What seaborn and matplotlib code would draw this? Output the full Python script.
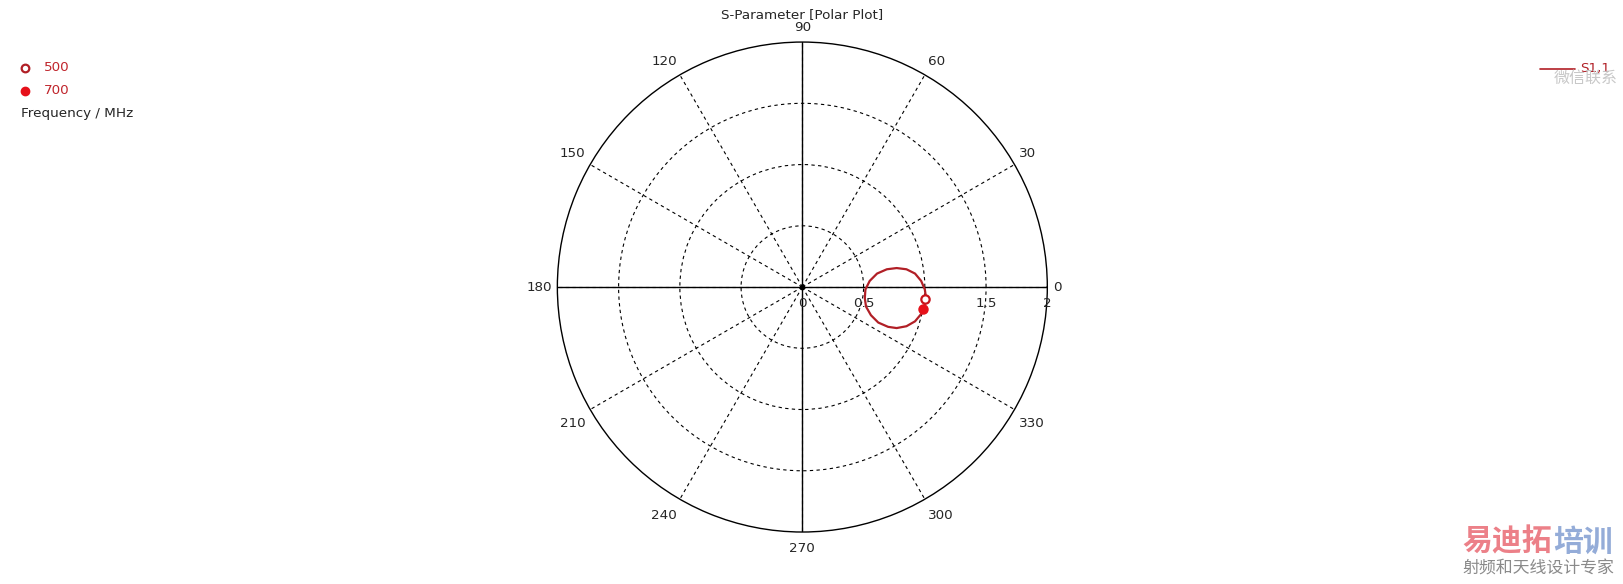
import numpy as np
import pandas as pd
import seaborn as sns
import matplotlib.pyplot as plt
from matplotlib.lines import Line2D

s11_re = [1.01, 1.00, 0.97, 0.92, 0.85, 0.77, 0.69, 0.61, 0.55, 0.515, 0.51,
          0.52, 0.56, 0.62, 0.70, 0.77, 0.85, 0.92, 0.97, 0.995, 1.01]
s11_im = [-0.09, -0.02, 0.05, 0.11, 0.145, 0.155, 0.145, 0.11, 0.05, -0.02, -0.09,
          -0.16, -0.23, -0.29, -0.325, -0.335, -0.32, -0.28, -0.22, -0.16, -0.09]

# frequency markers (MHz)
marker_freq = [500, 700]
marker_re = [1.00, 0.985]
marker_im = [-0.10, -0.18]

angle_ticks = list(range(0, 360, 30))
ring_values = [0.5, 1.0, 1.5]
radial_pos = [0, 0.5, 1.5, 2]
radial_labels = ["0", "0.5", "1.5", "2"]

sns.set_style("white")
plt.rcParams['font.family'] = ['DejaVu Sans', 'Noto Sans CJK SC']
FS = 9.7
CJK = ['Noto Sans CJK SC', 'DejaVu Sans']

trace = pd.DataFrame({"re": s11_re, "im": s11_im})
trace["theta"] = np.arctan2(trace["im"], trace["re"])
trace["mag"] = np.hypot(trace["re"], trace["im"])

marks = pd.DataFrame({"freq": marker_freq, "re": marker_re, "im": marker_im})
marks["theta"] = np.arctan2(marks["im"], marks["re"])
marks["mag"] = np.hypot(marks["re"], marks["im"])

fig = plt.figure(figsize=(16.24, 5.84), dpi=100)
ax = fig.add_axes([0.3432, 0.0890, 0.3017, 0.8390], projection='polar')

ax.set_ylim(0, 2)
ax.set_rgrids(ring_values, labels=[""] * len(ring_values))
ax.set_thetagrids(angle_ticks, labels=[""] * len(angle_ticks))
ax.grid(True, color='black', linestyle=(0, (3, 3)), linewidth=0.8)
ax.spines['polar'].set_color('black')
ax.spines['polar'].set_linewidth(1.0)

# angle labels just outside the rim
for a in angle_ticks:
    c, s = np.cos(np.deg2rad(a)), np.sin(np.deg2rad(a))
    ha = 'left' if c > 0.1 else ('right' if c < -0.1 else 'center')
    va = 'bottom' if s > 0.1 else ('top' if s < -0.1 else 'center')
    dy = 4 * s + (1.5 if s > 0.1 else (-3.5 if s < -0.1 else 0))
    ax.annotate(str(a), xy=(np.deg2rad(a), 2), xytext=(4 * c, dy),
                textcoords='offset points', ha=ha, va=va, fontsize=FS,
                annotation_clip=False)

# solid cross hair
for a in [0, 90, 180, 270]:
    ax.plot([np.deg2rad(a), np.deg2rad(a)], [0, 2], color='black', lw=1.0, zorder=2)
ax.plot([0], [0], marker='o', color='black', markersize=3, zorder=3)

for r, lab in zip(radial_pos, radial_labels):
    ax.annotate(lab, xy=(0, r), xytext=(0, -7.5), textcoords='offset points',
                ha='center', va='top', fontsize=FS)

sns.lineplot(data=trace, x="theta", y="mag", sort=False, estimator=None,
             color='#b11f26', linewidth=1.6, ax=ax, zorder=4)
ax.plot(marks["theta"][:1], marks["mag"][:1], 'o', markersize=6,
        markerfacecolor='white', markeredgecolor='#c8141c', markeredgewidth=1.6, zorder=5)
ax.plot(marks["theta"][1:], marks["mag"][1:], 'o', markersize=6.5,
        color='#e6101a', zorder=5)
ax.set_xlabel("")
ax.set_ylabel("")

fig.text(0.4938, 0.975, "S-Parameter [Polar Plot]", ha='center', va='center', fontsize=FS)

# frequency legend (top left)
fig.add_artist(Line2D([0.0154], [0.884], transform=fig.transFigure, marker='o',
                      markersize=5.5, markerfacecolor='white', markeredgecolor='#b11f26',
                      markeredgewidth=1.6, linestyle=''))
fig.add_artist(Line2D([0.0154], [0.845], transform=fig.transFigure, marker='o',
                      markersize=6, color='#e6101a', linestyle=''))
fig.text(0.0268, 0.884, "500", color='#c0262d', va='center', fontsize=FS)
fig.text(0.0268, 0.845, "700", color='#c0262d', va='center', fontsize=FS)
fig.text(0.0129, 0.806, "Frequency / MHz", va='center', fontsize=FS)

# trace legend (top right)
fig.add_artist(Line2D([0.948, 0.970], [0.882, 0.882], transform=fig.transFigure,
                      color='#b11f26', lw=1.2))
fig.text(0.973, 0.882, "S1,1", color='#b11f26', va='center', fontsize=FS)
fig.text(0.9565, 0.866, "微信联系", color='#c8c8c8', va='center', fontsize=11.5,
         family=CJK)

# watermark (bottom right)
fig.text(0.9005, 0.072, "易迪拓", color='#ec8088', va='center', fontsize=21.5,
         fontweight='bold', family=CJK)
fig.text(0.9563, 0.072, "培训", color='#94acd8', va='center', fontsize=21.5,
         fontweight='bold', family=CJK)
fig.text(0.9005, 0.026, "射频和天线设计专家", color='#8a8a8a', va='center', fontsize=12.2,
         family=CJK)

fig.savefig("out.png", dpi=100)
